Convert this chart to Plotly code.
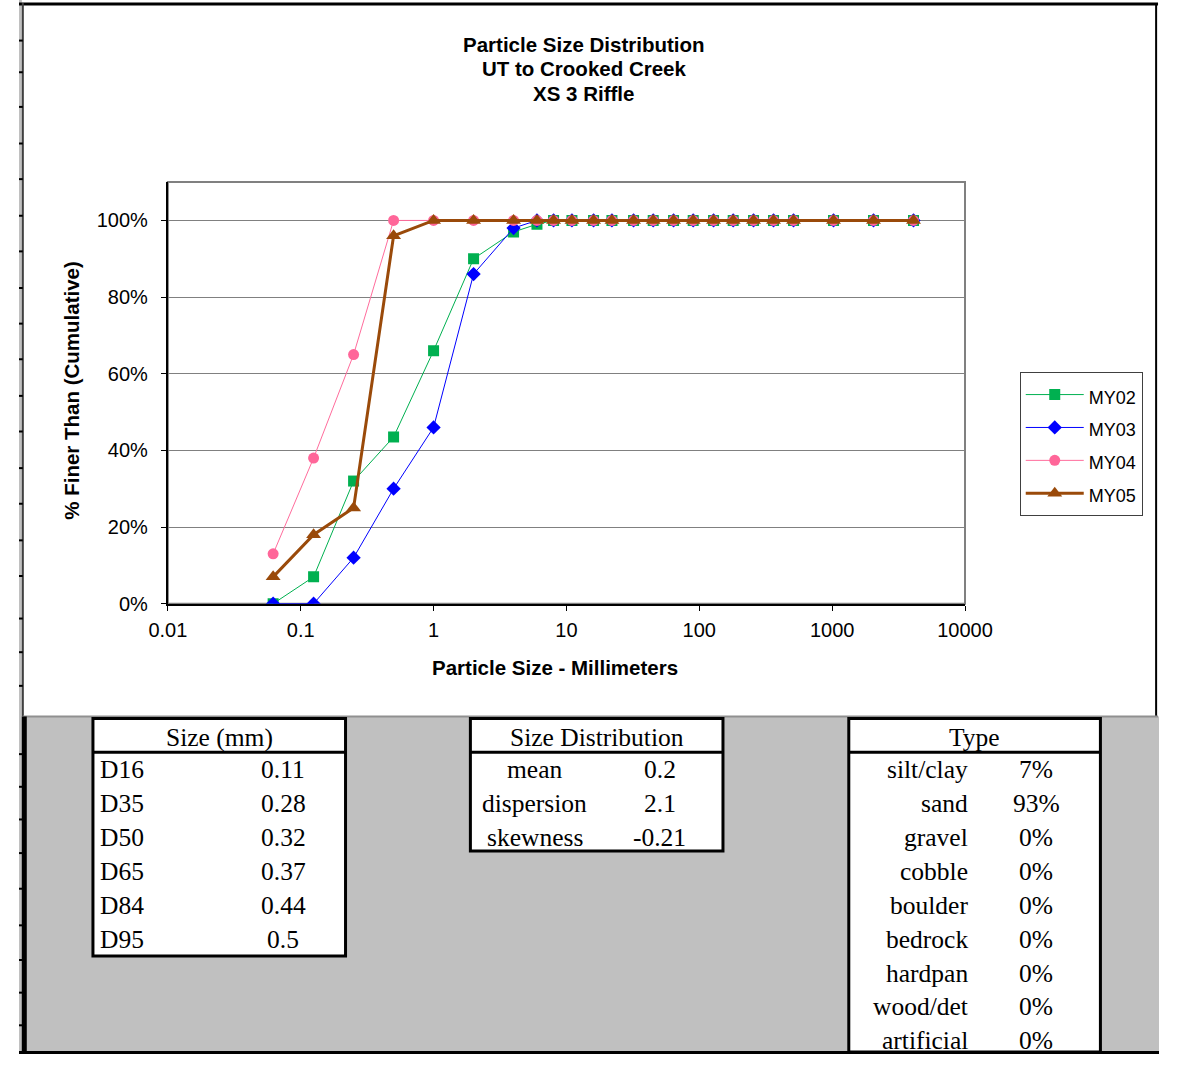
import plotly.graph_objects as go

# Sieve sizes (mm) and cumulative percent finer for each monitoring year
sizes_mm = [0.062, 0.125, 0.25, 0.5, 1, 2, 4, 6, 8, 11, 16, 22, 32, 45,
            64, 90, 128, 180, 256, 362, 512, 1024, 2048, 4096]
my02 = [0, 7, 32, 43.5, 66, 90, 97, 99, 100, 100, 100, 100, 100, 100,
        100, 100, 100, 100, 100, 100, 100, 100, 100, 100]
my03 = [0, 0, 12, 30, 46, 86, 98, 100, 100, 100, 100, 100, 100, 100,
        100, 100, 100, 100, 100, 100, 100, 100, 100, 100]
my04 = [13, 38, 65, 100, 100, 100, 100, 100, 100, 100, 100, 100, 100, 100,
        100, 100, 100, 100, 100, 100, 100, 100, 100, 100]
my05 = [7, 18, 25, 96, 100, 100, 100, 100, 100, 100, 100, 100, 100, 100,
        100, 100, 100, 100, 100, 100, 100, 100, 100, 100]

title_lines = ["Particle Size Distribution", "UT to Crooked Creek", "XS 3 Riffle"]
x_title = "Particle Size - Millimeters"
y_title = "% Finer Than (Cumulative)"
x_tickvals = [0.01, 0.1, 1, 10, 100, 1000, 10000]
x_ticktext = ["0.01", "0.1", "1", "10", "100", "1000", "10000"]
y_tickvals = [0, 20, 40, 60, 80, 100]
y_ticktext = ["0%", "20%", "40%", "60%", "80%", "100%"]

size_header = "Size (mm)"
size_labels = ["D16", "D35", "D50", "D65", "D84", "D95"]
size_values = [0.11, 0.28, 0.32, 0.37, 0.44, 0.5]

dist_header = "Size Distribution"
dist_labels = ["mean", "dispersion", "skewness"]
dist_values = [0.2, 2.1, -0.21]

type_header = "Type"
type_labels = ["silt/clay", "sand", "gravel", "cobble", "boulder",
               "bedrock", "hardpan", "wood/det", "artificial"]
type_values = [7, 93, 0, 0, 0, 0, 0, 0, 0]

W, H = 1187, 1065
SANS = "Liberation Sans"
SERIF = "Liberation Serif"


def fx(px):
    return px / W


def fy(py):
    return 1 - py / H


series = [
    ("MY02", my02, dict(color="#00b050", width=1), dict(symbol="square", size=11, color="#00b050")),
    ("MY03", my03, dict(color="#0000ff", width=1), dict(symbol="diamond", size=11, color="#0000ff")),
    ("MY04", my04, dict(color="#ff6c9c", width=1), dict(symbol="circle", size=11, color="#ff6699")),
    ("MY05", my05, dict(color="#9a4a0a", width=3), dict(symbol="triangle-up", size=13, color="#9a4a0a")),
]

fig = go.Figure()
for name, vals, line, marker in series:
    fig.add_trace(go.Scatter(
        x=sizes_mm, y=vals, mode="lines+markers",
        name=f"<span style='font-size:18px'>{name}</span>",
        line=line, marker=marker,
    ))

shapes = []
annotations = []

# sheet background: grey area under the chart and left row strip
shapes.append(dict(type="rect", xref="paper", yref="paper", x0=fx(0), x1=fx(W),
                   y0=fy(H), y1=fy(724), fillcolor="#c0c0c0", line=dict(width=0), layer="below"))
shapes.append(dict(type="rect", xref="paper", yref="paper", x0=fx(0), x1=fx(3),
                   y0=fy(H), y1=fy(0), fillcolor="#c0c0c0", line=dict(width=0), layer="below"))
# chart area frame
shapes.append(dict(type="line", xref="paper", yref="paper", x0=fx(0), x1=fx(1186),
                   y0=fy(4), y1=fy(4), line=dict(color="black", width=3)))
shapes.append(dict(type="line", xref="paper", yref="paper", x0=fx(1184), x1=fx(1184),
                   y0=fy(3), y1=fy(724), line=dict(color="black", width=2)))
shapes.append(dict(type="line", xref="paper", yref="paper", x0=fx(4), x1=fx(4),
                   y0=fy(3), y1=fy(724), line=dict(color="#404040", width=2)))
shapes.append(dict(type="line", xref="paper", yref="paper", x0=fx(4), x1=fx(1186),
                   y0=fy(724), y1=fy(724), line=dict(color="#909090", width=2)))
# left strip below the chart
shapes.append(dict(type="line", xref="paper", yref="paper", x0=fx(5.5), x1=fx(5.5),
                   y0=fy(724), y1=fy(H - 1), line=dict(color="black", width=5)))
# row boundaries in the left strip
row_marks = [41, 73, 108, 145, 181, 218, 254, 291, 327, 363, 400, 436, 473,
             509, 546, 582, 625, 659, 693, 762, 795, 828, 862, 898, 935, 970, 1003, 1036]
for ry in row_marks:
    shapes.append(dict(type="line", xref="paper", yref="paper", x0=fx(0), x1=fx(4),
                       y0=fy(ry), y1=fy(ry), line=dict(color="black", width=2)))

# plot frame (top/right in grey)
shapes.append(dict(type="rect", xref="x domain", yref="y domain", x0=0, x1=1, y0=0, y1=1,
                   line=dict(color="#808080", width=2), layer="below"))

# chart title
for i, t in enumerate(title_lines):
    annotations.append(dict(text=f"<b>{t}</b>", xref="paper", yref="paper",
                            x=fx(588), y=fy(45 + 24.5 * i), xanchor="center", yanchor="middle",
                            showarrow=False, font=dict(family=SANS, size=20.5, color="black")))
annotations.append(dict(text=f"<b>{x_title}</b>", xref="paper", yref="paper",
                        x=fx(558), y=fy(674), xanchor="center", yanchor="middle",
                        showarrow=False, font=dict(family=SANS, size=20.5, color="black")))
annotations.append(dict(text=f"<b>{y_title}</b>", xref="paper", yref="paper",
                        x=fx(55), y=fy(394), xanchor="center", yanchor="middle", textangle=-90,
                        showarrow=False, font=dict(family=SANS, size=20.5, color="black")))

# summary tables
HEAD_Y, ROW0, ROW_STEP = 745, 778, 34.2
TOP, HEAD_BOTTOM = 726, 760


def table(x0, x1, bottom, header, labels, values, fmt, label_x, label_anchor, value_x):
    shapes.append(dict(type="rect", xref="paper", yref="paper", x0=fx(x0), x1=fx(x1),
                       y0=fy(bottom), y1=fy(TOP), fillcolor="white",
                       line=dict(color="black", width=3)))
    shapes.append(dict(type="line", xref="paper", yref="paper", x0=fx(x0), x1=fx(x1),
                       y0=fy(HEAD_BOTTOM), y1=fy(HEAD_BOTTOM), line=dict(color="black", width=3)))
    annotations.append(dict(text=header, xref="paper", yref="paper", x=fx((x0 + x1) / 2),
                            y=fy(HEAD_Y), xanchor="center", yanchor="middle", showarrow=False,
                            font=dict(family=SERIF, size=25.5, color="black")))
    for i, (lab, val) in enumerate(zip(labels, values)):
        ry = ROW0 + ROW_STEP * i
        annotations.append(dict(text=lab, xref="paper", yref="paper", x=fx(label_x), y=fy(ry),
                                xanchor=label_anchor, yanchor="middle", showarrow=False,
                                font=dict(family=SERIF, size=25.5, color="black")))
        annotations.append(dict(text=fmt(val), xref="paper", yref="paper", x=fx(value_x), y=fy(ry),
                                xanchor="center", yanchor="middle", showarrow=False,
                                font=dict(family=SERIF, size=25.5, color="black")))


table(77, 340, 966, size_header, size_labels, size_values, lambda v: f"{v:g}", 82, "left", 275)
table(470, 733, 860, dist_header, dist_labels, dist_values, lambda v: f"{v:g}", 537, "center", 667)
table(864, 1126, H - 2, type_header, type_labels, type_values, lambda v: f"{v}%", 990, "right", 1059)

# bottom edge of the sheet
shapes.append(dict(type="line", xref="paper", yref="paper", x0=fx(0), x1=fx(W),
                   y0=fy(H - 1.5), y1=fy(H - 1.5), line=dict(color="black", width=3)))

fig.update_layout(
    width=W, height=H, margin=dict(l=0, r=0, t=0, b=0),
    paper_bgcolor="white", plot_bgcolor="white",
    showlegend=True,
    legend=dict(x=fx(1042), y=fy(376), xanchor="left", yanchor="top",
                bgcolor="white", bordercolor="#404040", borderwidth=1,
                font=dict(family=SANS, size=23, color="black"),
                itemwidth=58,
                itemclick=False, itemdoubleclick=False),
    shapes=shapes, annotations=annotations,
    xaxis=dict(type="log", range=[-2, 4], domain=[fx(155), fx(985)],
               tickvals=x_tickvals, ticktext=x_ticktext,
               ticks="outside", ticklen=5, tickcolor="black", tickwidth=1,
               showgrid=False, zeroline=False, showline=True, linecolor="black", linewidth=2,
               tickfont=dict(family=SANS, size=20, color="black"), ticklabelstandoff=2),
    yaxis=dict(range=[0, 110], domain=[fy(610), fy(184)],
               tickvals=y_tickvals, ticktext=y_ticktext,
               ticks="outside", ticklen=5, tickcolor="black", tickwidth=1,
               showgrid=True, gridcolor="#808080", gridwidth=1,
               zeroline=False, showline=True, linecolor="black", linewidth=2,
               tickfont=dict(family=SANS, size=20, color="black"), ticklabelstandoff=9),
)

fig.write_html("out.html")
